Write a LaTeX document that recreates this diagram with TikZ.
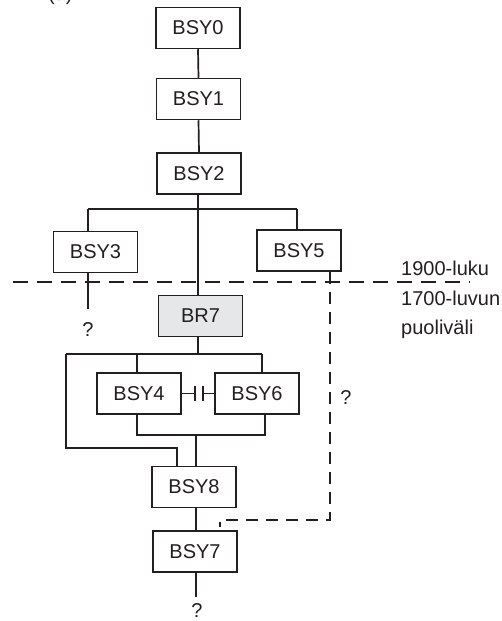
\documentclass[tikz,border=0pt]{standalone}
\usepackage{fontspec}
\setmainfont{Liberation Sans}
\definecolor{ink}{HTML}{231F20}
\definecolor{boxgray}{HTML}{E6E7E8}
\begin{document}
\begin{tikzpicture}[x=1pt,y=-1pt,
  every node/.style={font=\fontsize{20}{23}\selectfont, text=ink},
  gbox/.style={draw=ink, line width=1.5pt, fill=white, minimum width=84pt, minimum height=41pt, inner sep=0pt},
  link/.style={draw=ink, line width=1.7pt},
  era/.style={draw=ink, line width=1.4pt, dash pattern=on 15pt off 9pt},
  unsure/.style={draw=ink, line width=1.4pt, dash pattern=on 12pt off 8pt},
  lbl/.style={inner sep=0pt}]
\useasboundingbox (0,0) rectangle (501,621);
\begin{scope}
\clip (0,0) rectangle (501,621);
\node[lbl, anchor=base west] (cap) at (48,1) {(a)};
\end{scope}

% boxes
\node[gbox] (b0) at (198,28) {BSY0};
\node[gbox] (b1) at (198.5,99) {BSY1};
\node[gbox] (b2) at (199,173.5) {BSY2};
\node[gbox] (b3) at (95.5,252) {BSY3};
\node[gbox] (b5) at (299,250.5) {BSY5};
\node[gbox, fill=boxgray] (br7) at (200.5,316) {BR7};
\node[gbox] (b4) at (139,393.5) {BSY4};
\node[gbox] (b6) at (257,393.5) {BSY6};
\node[gbox] (b8) at (194,487) {BSY8};
\node[gbox] (b7) at (195,551.5) {BSY7};

% helper coordinates
\coordinate (busA) at (198,209);
\coordinate (busAl) at (88,209);
\coordinate (busAr) at (297,209);
\coordinate (q3top) at (88,309);
\coordinate (busB) at (198,354);
\coordinate (busBl) at (66,354);
\coordinate (busB4) at (137,354);
\coordinate (busBr) at (262,354);
\coordinate (loopc) at (66,448);
\coordinate (loopd) at (177,448);
\coordinate (joinl) at (137,435);
\coordinate (joinr) at (265,435);
\coordinate (joinm) at (196,435);
\coordinate (endq) at (196,597);
\coordinate (eraL) at (13,282);
\coordinate (eraR) at (470,282);
\coordinate (dA) at (330,520);
\coordinate (dB) at (220,520);
\coordinate (dC) at (220,527);

% labels
\node[lbl] (q3) at (88,330) {?};
\node[lbl] (q7) at (197,611) {?};
\node[lbl] (q5) at (346,398) {?};
\node[lbl, anchor=west] (t1900) at (401,268) {1900-luku};
\node[lbl, anchor=west] (t1700) at (401,298) {1700-luvun};
\node[lbl, anchor=west] (tpuol) at (401,329) {puoliväli};

% era boundary
\draw[era] (eraL) -- (eraR);

% solid connectors
\draw[link] (b0.south) -- (b1.north);
\draw[link] (b1.south) -- (b2.north);
\draw[link] (b2.south -| busA) -- (busA);
\draw[link] (busAl) -- (busAr);
\draw[link] (busAl) -- (busAl |- b3.north);
\draw[link] (busAr) -- (busAr |- b5.north);
\draw[link] (busA) -- (busA |- br7.north);
\draw[link] (q3top |- b3.south) -- (q3top);
\draw[link] (br7.south -| busB) -- (busB);
\draw[link] (busBl) -- (busBr);
\draw[link] (busB4) -- (busB4 |- b4.north);
\draw[link] (busBr) -- (busBr |- b6.north);
\draw[link] (busBl) -- (loopc) -- (loopd) -- (loopd |- b8.north);
\draw[link] (joinl |- b4.south) -- (joinl) -- (joinr) -- (joinr |- b6.south);
\draw[link] (joinm) -- (joinm |- b8.north);
\draw[link] (joinm |- b8.south) -- (joinm |- b7.north);
\draw[link] (joinm |- b7.south) -- (endq);

% uncertain (dashed) link
\draw[unsure] (dA |- b5.south) -- (dA) -- (dB) -- (dC);

% BSY4 -| |- BSY6 relation
\coordinate (r1) at (195,393.5);
\coordinate (r2) at (203,393.5);
\draw[link, line width=1.3pt] (b4.east) -- (r1);
\draw[link, line width=1.3pt] ([yshift=-7.5pt]r1) -- ([yshift=7.5pt]r1);
\draw[link, line width=1.3pt] ([yshift=-7.5pt]r2) -- ([yshift=7.5pt]r2);
\draw[link, line width=1.3pt] (r2) -- (b6.west);
\end{tikzpicture}
\end{document}
